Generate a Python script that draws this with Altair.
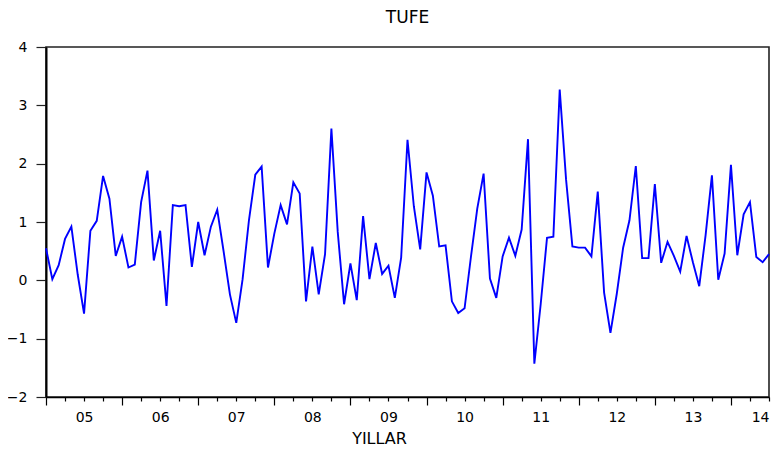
import altair as alt
import pandas as pd

# Monthly TUFE (% change), Jan 2005 - Jul 2014
v2005 = [0.55, 0.02, 0.26, 0.71, 0.92, 0.10, -0.57, 0.85, 1.02, 1.79, 1.40, 0.42]
v2006 = [0.75, 0.22, 0.27, 1.34, 1.88, 0.34, 0.85, -0.44, 1.29, 1.27, 1.29, 0.23]
v2007 = [1.00, 0.43, 0.92, 1.21, 0.50, -0.24, -0.73, 0.02, 1.03, 1.81, 1.95, 0.22]
v2008 = [0.80, 1.29, 0.96, 1.68, 1.49, -0.36, 0.58, -0.24, 0.45, 2.60, 0.83, -0.41]
v2009 = [0.29, -0.34, 1.10, 0.02, 0.64, 0.11, 0.25, -0.30, 0.39, 2.41, 1.27, 0.53]
v2010 = [1.85, 1.45, 0.58, 0.60, -0.36, -0.56, -0.48, 0.40, 1.23, 1.83, 0.03, -0.30]
v2011 = [0.41, 0.73, 0.42, 0.87, 2.42, -1.43, -0.41, 0.73, 0.75, 3.27, 1.73, 0.58]
v2012 = [0.56, 0.56, 0.41, 1.52, -0.21, -0.90, -0.23, 0.56, 1.03, 1.96, 0.38, 0.38]
v2013 = [1.65, 0.30, 0.66, 0.42, 0.15, 0.76, 0.31, -0.10, 0.77, 1.80, 0.01, 0.46]
v2014 = [1.98, 0.43, 1.13, 1.34, 0.40, 0.31, 0.45]

year_labels = ["05", "06", "07", "08", "09", "10", "11", "12", "13", "14"]
y_ticks = [-2, -1, 0, 1, 2, 3, 4]

values = v2005 + v2006 + v2007 + v2008 + v2009 + v2010 + v2011 + v2012 + v2013 + v2014
df = pd.DataFrame({"t": list(range(len(values))), "tufe": values})

last = len(values) - 1
label_array = "[" + ",".join("'" + s + "'" for s in year_labels) + "]"
label_expr = f"(datum.value % 12 == 6) ? {label_array}[floor(datum.value / 12)] : ''"

FONT = "DejaVu Sans"

chart = alt.Chart(df).mark_line(color="#0000FF", strokeWidth=1.9).encode(
    x=alt.X(
        "t:Q",
        scale=alt.Scale(domain=[0, last], nice=False, zero=False),
        axis=alt.Axis(
            title="YILLAR",
            values=list(range(0, last + 1, 3)),
            labelExpr=label_expr,
            tickSize={"condition": {"test": "datum.value % 12 == 0", "value": 8}, "value": 4},
            labelPadding=9,
            labelFont=FONT,
            labelFontSize=14,
            labelColor="#000",
            labelFlush=True,
            labelOverlap=False,
            titleFont=FONT,
            titleFontSize=16,
            titleFontWeight="normal",
            titleColor="#000",
            titleX=333,
            titleY=41,
            titleBaseline="middle",
            titleAlign="center",
            grid=False,
            domainColor="#000",
            domainWidth=1.5,
            tickColor="#000",
            tickWidth=1.2,
        ),
    ),
    y=alt.Y(
        "tufe:Q",
        scale=alt.Scale(domain=[-2, 4], nice=False, zero=False),
        axis=alt.Axis(
            title=None,
            values=y_ticks,
            tickSize=10,
            labelPadding=9,
            labelFont=FONT,
            labelFontSize=14,
            labelColor="#000",
            grid=False,
            domainColor="#000",
            domainWidth=2,
            tickColor="#222",
            tickWidth=1.2,
        ),
    ),
).properties(
    width=723,
    height=350,
    background="white",
    title=alt.TitleParams(
        "TUFE",
        font=FONT,
        fontSize=17,
        fontWeight="normal",
        color="#000",
        anchor="middle",
        frame="group",
        baseline="alphabetic",
        offset=0,
    ),
    autosize=alt.AutoSizeParams(type="none"),
    padding={"left": 38, "top": 39, "right": 5, "bottom": 50},
).configure_view(
    stroke="#222", strokeWidth=1.6
)

chart.save("out.html", embed_options={"renderer": "svg", "actions": False})
